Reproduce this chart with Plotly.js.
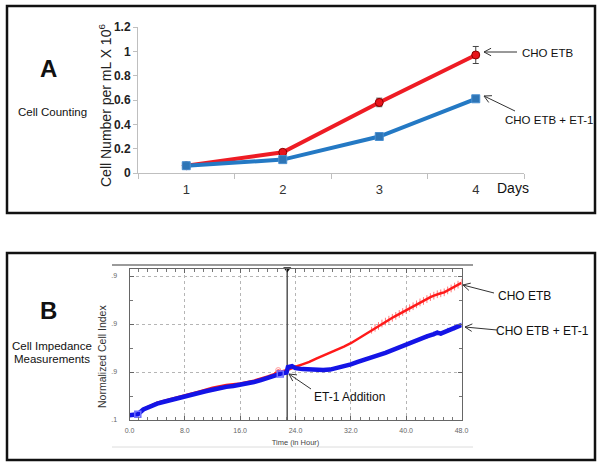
<!DOCTYPE html>
<html>
<head>
<meta charset="utf-8">
<script src="https://cdn.plot.ly/plotly-3.0.1.min.js"></script>
<style>html,body{margin:0;padding:0;background:#fff}#chart{width:601px;height:466px}</style>
</head>
<body>
<div id="chart"></div>
<script>
// ---------- Panel A: cell counting ----------
const daysA = ['1', '2', '3', '4'];
const choEtbA = [0.06, 0.17, 0.58, 0.97];
const choEtbErrA = [0.005, 0.012, 0.035, 0.07];
const choEtbEt1A = [0.06, 0.11, 0.30, 0.61];
const choEtbEt1ErrA = [0.005, 0.008, 0.012, 0.01];
const yTicksA = [0, 0.2, 0.4, 0.6, 0.8, 1, 1.2];

// ---------- Panel B: cell impedance ----------
const timeEtbB = [0, 1.2, 2, 4, 6, 8, 10, 12, 14, 16, 18, 20, 21, 21.5, 22, 22.8, 23.5, 24, 25, 26, 27, 28, 29, 30, 31, 32, 33, 34, 35, 35.5, 36, 36.5, 37, 37.5, 38, 38.5, 39, 39.5, 40, 40.5, 41, 41.5, 42, 42.5, 43, 43.5, 44, 44.5, 45, 45.5, 46, 46.5, 47, 47.5, 48];
const choEtbB = [0.10, 0.12, 0.23, 0.36, 0.44, 0.51, 0.59, 0.67, 0.73, 0.76, 0.82, 0.91, 0.96, 1.03, 1.01, 1.04, 1.09, 1.11, 1.16, 1.21, 1.28, 1.34, 1.40, 1.46, 1.53, 1.60, 1.69, 1.78, 1.87, 1.92, 1.96, 2.01, 2.05, 2.09, 2.13, 2.17, 2.21, 2.25, 2.29, 2.33, 2.37, 2.41, 2.45, 2.48, 2.52, 2.56, 2.59, 2.62, 2.64, 2.66, 2.70, 2.74, 2.78, 2.82, 2.86];
const choEtbErrB = [0, 0, 0, 0, 0, 0, 0, 0, 0, 0, 0, 0, 0, 0, 0, 0, 0, 0, 0, 0, 0, 0, 0, 0, 0, 0, 0, 0, 0.07, 0.08, 0.08, 0.08, 0.08, 0.08, 0.08, 0.08, 0.08, 0.08, 0.08, 0.08, 0.08, 0.08, 0.08, 0.08, 0.08, 0.08, 0.08, 0.08, 0.08, 0.08, 0.08, 0.08, 0.08, 0.08, 0.08];
const timeEt1B = [0, 1.2, 2, 3, 4, 5, 6, 7, 8, 9, 10, 11, 12, 13, 14, 15, 16, 17, 18, 19, 20, 21, 22, 22.7, 22.9, 23.5, 24, 25, 26, 27, 28, 29, 30, 31, 32, 33, 34, 35, 36, 37, 38, 39, 40, 41, 42, 43, 44, 44.5, 45, 46, 47, 48];
const choEtbEt1B = [0.10, 0.12, 0.22, 0.29, 0.34, 0.38, 0.42, 0.45, 0.48, 0.52, 0.56, 0.60, 0.63, 0.67, 0.69, 0.71, 0.73, 0.76, 0.79, 0.83, 0.88, 0.93, 0.97, 0.99, 1.10, 1.12, 1.08, 1.06, 1.05, 1.04, 1.04, 1.05, 1.08, 1.12, 1.16, 1.21, 1.25, 1.30, 1.35, 1.40, 1.46, 1.52, 1.58, 1.64, 1.69, 1.74, 1.79, 1.82, 1.80, 1.87, 1.92, 1.98];
const choEtbEt1ErrB = [0, 0, 0, 0, 0, 0, 0, 0, 0, 0, 0, 0, 0, 0, 0, 0, 0, 0, 0, 0, 0, 0, 0, 0, 0, 0, 0, 0, 0, 0, 0, 0, 0, 0, 0, 0, 0, 0, 0, 0, 0, 0, 0, 0, 0, 0.05, 0.05, 0.05, 0.05, 0.05, 0.05, 0.05];
const et1AdditionTime = [22.8];
const yTickValsB = [0, 1, 2, 3];
const yTickTextB = ['.1', '.9', '.9', '.9'];
const yTopB = 3.146;
const blueMarkT = [1.2, 21.8];
const blueMarkV = [0.12, 0.96];
const redMarkT = [21.5];
const redMarkV = [1.04];

// pixel -> paper helpers (layout positions only)
const W = 601, H = 466;
const px = v => v / W;
const py = v => 1 - v / H;
const FONT = 'Liberation Sans, Arial, sans-serif';

const traces = [
  // Panel A
  {x: daysA, y: choEtbA, xaxis: 'x', yaxis: 'y', type: 'scatter', mode: 'lines+markers',
   line: {color: '#ee1c24', width: 4},
   marker: {symbol: 'circle', size: 8, color: '#e8141b', line: {color: '#8b0000', width: 1}},
   error_y: {type: 'data', array: choEtbErrA, visible: true, color: '#444', thickness: 1, width: 3}},
  {x: daysA, y: choEtbEt1A, xaxis: 'x', yaxis: 'y', type: 'scatter', mode: 'lines+markers',
   line: {color: '#2479c4', width: 4},
   marker: {symbol: 'square', size: 8, color: '#2e75b6', line: {color: '#4a8fd0', width: 1}},
   error_y: {type: 'data', array: choEtbEt1ErrA, visible: true, color: '#444', thickness: 1, width: 3}},
  // Panel B
  {x: [et1AdditionTime[0], et1AdditionTime[0]], y: [0, yTopB], xaxis: 'x2', yaxis: 'y2', type: 'scatter', mode: 'lines',
   line: {color: '#555', width: 1.5}, hoverinfo: 'skip'},
  {x: et1AdditionTime, y: [yTopB], xaxis: 'x2', yaxis: 'y2', type: 'scatter', mode: 'markers', cliponaxis: false,
   marker: {symbol: 'triangle-down', size: 7, color: '#111'}},
  {x: timeEtbB, y: choEtbB, xaxis: 'x2', yaxis: 'y2', type: 'scatter', mode: 'lines',
   line: {color: '#ff1a1a', width: 2.5},
   error_y: {type: 'data', array: choEtbErrB, visible: true, color: '#ff7a7a', thickness: 1, width: 0}},
  {x: redMarkT, y: redMarkV, xaxis: 'x2', yaxis: 'y2', type: 'scatter', mode: 'markers',
   marker: {symbol: 'circle-open', size: 5, color: '#ff9a9a'}},
  {x: timeEt1B, y: choEtbEt1B, xaxis: 'x2', yaxis: 'y2', type: 'scatter', mode: 'lines',
   line: {color: '#1414e6', width: 4.5},
   error_y: {type: 'data', array: choEtbEt1ErrB, visible: true, color: '#6a6aff', thickness: 1, width: 0}},
  {x: blueMarkT, y: blueMarkV, xaxis: 'x2', yaxis: 'y2', type: 'scatter', mode: 'markers',
   marker: {symbol: 'square-open', size: 6, color: '#7070ff', line: {width: 1.5}}}
];

function ann(text, x, y, size, extra) {
  return Object.assign({text: text, xref: 'paper', yref: 'paper', x: px(x), y: py(y), showarrow: false,
    xanchor: 'center', yanchor: 'middle', font: {family: FONT, size: size, color: '#111'}}, extra || {});
}
// open "<" arrow drawn with line shapes (head hx,hy ; tail tx,ty in pixels)
function arrowShapes(hx, hy, tx, ty) {
  const dx = tx - hx, dy = ty - hy, L = Math.hypot(dx, dy);
  const ux = dx / L, uy = dy / L, a = 28 * Math.PI / 180, len = 8;
  const st = {color: '#333', width: 1};
  const mk = (x0, y0, x1, y1) => ({type: 'line', xref: 'paper', yref: 'paper',
    x0: px(x0), y0: py(y0), x1: px(x1), y1: py(y1), line: st});
  const b1x = hx + len * (ux * Math.cos(a) - uy * Math.sin(a));
  const b1y = hy + len * (ux * Math.sin(a) + uy * Math.cos(a));
  const b2x = hx + len * (ux * Math.cos(-a) - uy * Math.sin(-a));
  const b2y = hy + len * (ux * Math.sin(-a) + uy * Math.cos(-a));
  return [mk(tx, ty, hx, hy), mk(hx, hy, b1x, b1y), mk(hx, hy, b2x, b2y)];
}

const shapes = [
  {type: 'rect', xref: 'paper', yref: 'paper', x0: px(7), x1: px(595), y0: py(213), y1: py(6), line: {color: '#111', width: 2.5}},
  {type: 'rect', xref: 'paper', yref: 'paper', x0: px(7), x1: px(595), y0: py(460), y1: py(253), line: {color: '#111', width: 2.5}},
  {type: 'line', xref: 'paper', yref: 'paper', x0: px(112), x1: px(473), y0: py(265), y1: py(265), line: {color: '#9a9a9a', width: 2}},
  {type: 'line', xref: 'paper', yref: 'paper', x0: px(112), x1: px(473), y0: py(447), y1: py(447), line: {color: '#dcdcdc', width: 1}}
].concat(
  arrowShapes(484, 52, 517, 52),
  arrowShapes(484, 96, 515, 111),
  arrowShapes(463, 285, 494, 293),
  arrowShapes(465, 327, 497, 330),
  arrowShapes(289, 374, 311, 389)
);

const layout = {
  width: W, height: H,
  margin: {l: 0, r: 0, t: 0, b: 0},
  paper_bgcolor: '#fff', plot_bgcolor: 'rgba(0,0,0,0)',
  showlegend: false,
  font: {family: FONT},
  xaxis: {domain: [px(138), px(524)], anchor: 'y', type: 'category', range: [-0.5, 3.5],
    showline: true, linecolor: '#bfbfbf', linewidth: 1, ticks: 'outside', tickson: 'boundaries', ticklen: 5,
    tickcolor: '#bfbfbf', showgrid: false, zeroline: false, ticklabelstandoff: 4,
    tickfont: {family: FONT, size: 13, color: '#333'}, fixedrange: true},
  yaxis: {domain: [py(173), py(27)], anchor: 'x', range: [0, 1.2], tickvals: yTicksA,
    showline: true, linecolor: '#bfbfbf', linewidth: 1, ticks: 'outside', ticklen: 4, tickcolor: '#bfbfbf',
    showgrid: false, zeroline: false,
    tickfont: {family: FONT, size: 12, color: '#222', weight: 'bold'}},
  xaxis2: {domain: [px(129.5), px(461.5)], anchor: 'y2', range: [0, 48], dtick: 8, tick0: 0, tickformat: '.1f',
    showline: true, mirror: 'allticks', linecolor: '#666', linewidth: 1,
    showgrid: true, gridcolor: '#b5b5b5', griddash: 'dot', gridwidth: 1, zeroline: false,
    ticks: 'inside', ticklen: 4, tickcolor: '#666',
    minor: {dtick: 4 / 3, tick0: 0, ticks: 'inside', ticklen: 3, tickcolor: '#777', showgrid: false},
    tickfont: {family: FONT, size: 7, color: '#666'}, ticklabelstandoff: 4,
    title: {text: 'Time (in Hour)', font: {family: FONT, size: 7.5, color: '#444'}, standoff: 6}},
  yaxis2: {domain: [py(420), py(269)], anchor: 'x2', range: [0, yTopB], tickvals: yTickValsB, ticktext: yTickTextB,
    showline: true, mirror: 'allticks', linecolor: '#666', linewidth: 1,
    showgrid: true, gridcolor: '#b5b5b5', griddash: 'dot', gridwidth: 1, zeroline: false,
    ticks: 'inside', ticklen: 4, tickcolor: '#666',
    minor: {dtick: 0.5, tick0: 0, ticks: 'inside', ticklen: 3, tickcolor: '#777', showgrid: false},
    tickfont: {family: FONT, size: 7, color: '#666'}, ticklabelstandoff: 10},
  shapes: shapes,
  annotations: [
    ann('<b>A</b>', 48, 68, 24),
    ann('Cell Counting', 52, 112, 11.5),
    ann('Cell Number per mL X 10<sup>6</sup>', 105, 106, 14, {textangle: -90, font: {family: FONT, size: 14, color: '#222'}}),
    ann('Days', 513, 188, 14),
    ann('CHO ETB', 547, 53, 11.5),
    ann('CHO ETB + ET-1', 549, 120, 11.5),
    ann('<b>B</b>', 48, 310, 24),
    ann('Cell Impedance', 52, 346, 11.5),
    ann('Measurements', 52, 359, 11.5),
    ann('Normalized Cell Index', 102, 356, 10.5, {textangle: -90, font: {family: FONT, size: 10.5, color: '#333'}}),
    ann('CHO ETB', 524, 296, 12),
    ann('CHO ETB + ET-1', 542, 331, 12),
    ann('ET-1 Addition', 349, 397, 12)
  ]
};

Plotly.newPlot('chart', traces, layout, {staticPlot: true, displayModeBar: false});
</script>
</body>
</html>
